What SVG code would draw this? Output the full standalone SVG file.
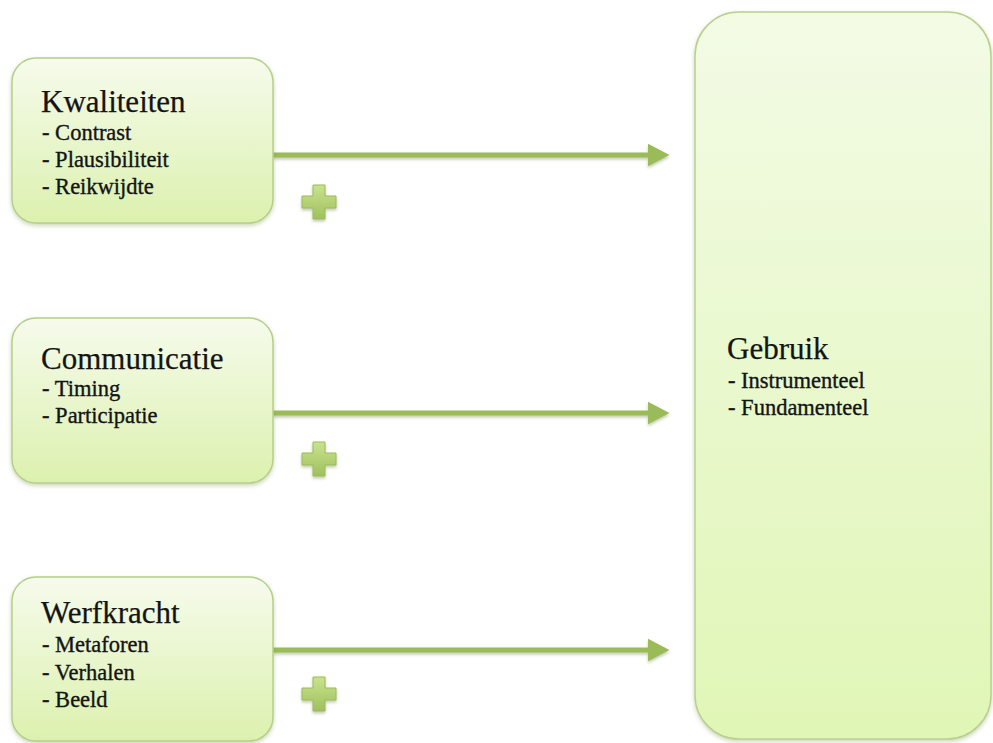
<svg xmlns="http://www.w3.org/2000/svg" width="993" height="743" viewBox="0 0 993 743">
<style>
.head{font-family:"Liberation Serif","Times New Roman",serif;font-size:31px;fill:#141414;stroke:#141414;stroke-width:0.25}
.item{font-family:"Liberation Serif","Times New Roman",serif;font-size:22.5px;fill:#141414;stroke:#141414;stroke-width:0.35}
.box{fill:url(#gBox);stroke:#b5cf8a;stroke-width:1.5;filter:url(#sh)}
.big{fill:url(#gBig);stroke:#b9d08f;stroke-width:1.5;filter:url(#sh)}
.conn{stroke:#9bbb59;stroke-width:5;fill:none;marker-end:url(#ah);filter:url(#sh2)}
.plus{fill:url(#gPlus);stroke:#9bbb59;stroke-width:1;stroke-linejoin:round;filter:url(#sh2)}
</style>
<defs>
<linearGradient id="gBox" x1="0" y1="0" x2="0" y2="1">
<stop offset="0" stop-color="#f6fbec"/>
<stop offset="1" stop-color="#dcf1ae"/>
</linearGradient>
<linearGradient id="gBig" x1="0" y1="0" x2="0" y2="1">
<stop offset="0" stop-color="#f3fbe5"/>
<stop offset="1" stop-color="#e0f6b6"/>
</linearGradient>
<linearGradient id="gPlus" x1="0" y1="0" x2="0" y2="1">
<stop offset="0" stop-color="#c9e38f"/>
<stop offset="1" stop-color="#9fc15c"/>
</linearGradient>
<filter id="sh" x="-10%" y="-10%" width="120%" height="120%">
<feDropShadow dx="0" dy="2" stdDeviation="2" flood-color="#6f8a3c" flood-opacity="0.35"/>
</filter>
<filter id="sh2" filterUnits="userSpaceOnUse" x="0" y="0" width="993" height="743">
<feDropShadow dx="0" dy="2" stdDeviation="1.5" flood-color="#556b2f" flood-opacity="0.35"/>
</filter>
<marker id="ah" markerWidth="5" markerHeight="5" refX="0.5" refY="2.5" orient="auto" markerUnits="strokeWidth">
<path d="M0,0.2 L4.4,2.5 L0,4.8 Z" fill="#9bbb59"/>
</marker>
</defs>
<rect width="993" height="743" fill="#ffffff"/>

<g id="connectors">
<line class="conn" x1="273" y1="155" x2="650" y2="155"/>
<line class="conn" x1="273" y1="413" x2="650" y2="413"/>
<line class="conn" x1="273" y1="650" x2="650" y2="650"/>
<path class="plus" d="M313,185 h12 v11 h11 v12 h-11 v11 h-12 v-11 h-11 v-12 h11 z"/>
<path class="plus" d="M313,442 h12 v11 h11 v12 h-11 v11 h-12 v-11 h-11 v-12 h11 z"/>
<path class="plus" d="M313,677 h12 v11 h11 v12 h-11 v11 h-12 v-11 h-11 v-12 h11 z"/>
</g>

<g id="kwaliteiten">
<rect class="box" x="12" y="58" width="261" height="165" rx="24"/>
<text class="head" x="41" y="112">Kwaliteiten</text>
<text class="item" x="42" y="140">- Contrast</text>
<text class="item" x="42" y="167">- Plausibiliteit</text>
<text class="item" x="42" y="194">- Reikwijdte</text>
</g>

<g id="communicatie">
<rect class="box" x="12" y="318" width="261" height="165" rx="24"/>
<text class="head" x="41" y="369">Communicatie</text>
<text class="item" x="42" y="396">- Timing</text>
<text class="item" x="42" y="423">- Participatie</text>
</g>

<g id="werfkracht">
<rect class="box" x="12" y="577" width="261" height="164" rx="24"/>
<text class="head" x="41" y="623">Werfkracht</text>
<text class="item" x="42" y="652">- Metaforen</text>
<text class="item" x="42" y="680">- Verhalen</text>
<text class="item" x="42" y="707">- Beeld</text>
</g>

<g id="gebruik">
<rect class="big" x="695" y="12" width="296" height="727" rx="44"/>
<text class="head" x="727" y="359">Gebruik</text>
<text class="item" x="728" y="388">- Instrumenteel</text>
<text class="item" x="728" y="415">- Fundamenteel</text>
</g>
</svg>
